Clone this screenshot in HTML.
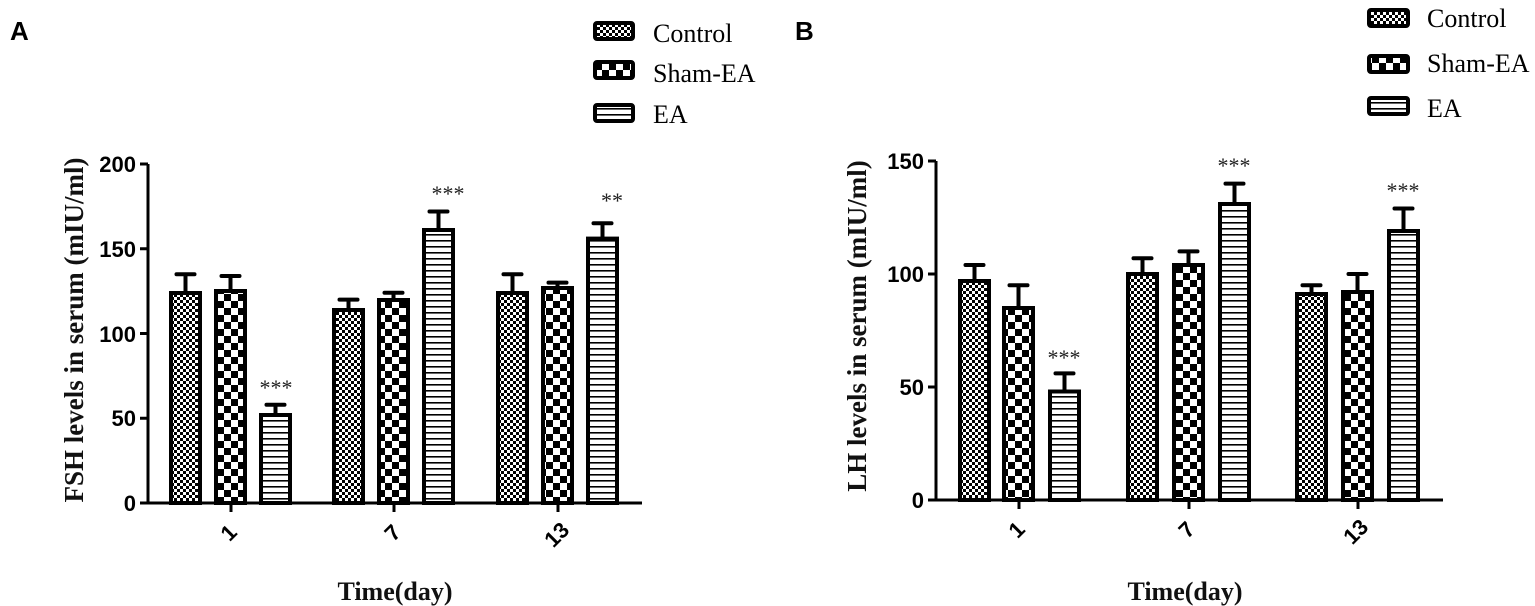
<!DOCTYPE html>
<html><head><meta charset="utf-8"><style>
html,body{margin:0;padding:0;background:#fff;}
svg{display:block;}
.t{font-family:"Liberation Sans",sans-serif;font-weight:bold;font-size:22px;}
.s{font-family:"Liberation Serif",serif;}
</style></head><body>
<svg width="1535" height="606" viewBox="0 0 1535 606" xmlns="http://www.w3.org/2000/svg">
<defs>
<pattern id="pc" width="6" height="6" patternUnits="userSpaceOnUse">
<rect width="6" height="6" fill="#fff"/><rect width="3" height="3" fill="#000"/><rect x="3" y="3" width="3" height="3" fill="#000"/></pattern>
<pattern id="ps" width="14" height="14" patternUnits="userSpaceOnUse">
<rect width="14" height="14" fill="#fff"/><rect width="7" height="7" fill="#000"/><rect x="7" y="7" width="7" height="7" fill="#000"/></pattern>
<pattern id="pe" width="6" height="6" patternUnits="userSpaceOnUse">
<rect width="6" height="6" fill="#fff"/><rect y="0" width="6" height="1.6" fill="#000"/></pattern>
</defs>
<g stroke="#000" stroke-width="4" stroke-linecap="round">
<path d="M185.5 293V274.2M176.5 274.2H194.5 M230.5 291V276M221.5 276H239.5 M275.5 415V404.7M266.5 404.7H284.5
M348.5 310V299.6M339.5 299.6H357.5 M393.5 300V292.8M384.5 292.8H402.5 M438.5 230V211.5M429.5 211.5H447.5
M512.5 293V274.2M503.5 274.2H521.5 M557.5 288V282.6M548.5 282.6H566.5 M602.5 238.6V223.3M593.5 223.3H611.5
M974.5 281V265M965.5 265H983.5 M1018.5 308V285.3M1009.5 285.3H1027.5 M1064.5 391.5V373.4M1055.5 373.4H1073.5
M1142.5 274V258.2M1133.5 258.2H1151.5 M1188.5 265V251.4M1179.5 251.4H1197.5 M1234.5 204V183.6M1225.5 183.6H1243.5
M1311.5 294V285.3M1302.5 285.3H1320.5 M1357.5 292V274M1348.5 274H1366.5 M1403.5 231V208.5M1394.5 208.5H1412.5"/>
</g>
<g stroke="#000" stroke-width="4">
<rect x="171" y="293" width="29" height="210" fill="url(#pc)"/>
<rect x="216" y="291" width="29" height="212" fill="url(#ps)"/>
<rect x="261" y="415" width="29" height="88" fill="url(#pe)"/>
<rect x="334" y="310" width="29" height="193" fill="url(#pc)"/>
<rect x="379" y="300" width="29" height="203" fill="url(#ps)"/>
<rect x="424" y="230" width="29" height="273" fill="url(#pe)"/>
<rect x="498" y="293" width="29" height="210" fill="url(#pc)"/>
<rect x="543" y="288" width="29" height="215" fill="url(#ps)"/>
<rect x="588" y="238.6" width="29" height="264.4" fill="url(#pe)"/>

<rect x="960" y="281" width="29" height="219" fill="url(#pc)"/>
<rect x="1004" y="308" width="29" height="192" fill="url(#ps)"/>
<rect x="1050" y="391.5" width="29" height="108.5" fill="url(#pe)"/>
<rect x="1128" y="274" width="29" height="226" fill="url(#pc)"/>
<rect x="1174" y="265" width="29" height="235" fill="url(#ps)"/>
<rect x="1220" y="204" width="29" height="296" fill="url(#pe)"/>
<rect x="1297" y="294" width="29" height="206" fill="url(#pc)"/>
<rect x="1343" y="292" width="29" height="208" fill="url(#ps)"/>
<rect x="1389" y="231" width="29" height="269" fill="url(#pe)"/>
</g>
<g stroke="#000" stroke-width="3" fill="none">
<path d="M148 164V504 M147 503H642 M140 164H148 M140 418.3H148 M140 333.5H148 M140 248.8H148 M140 503H148 M231 503V512 M394 503V512 M558 503V512"/>
<path d="M936 161V501 M935 500H1443 M928 161H936 M928 274H936 M928 387H936 M928 500H936 M1019 500V509 M1189 500V509 M1358 500V509"/>
</g>
<g class="t" text-anchor="end">
<text x="136" y="172">200</text><text x="136" y="257">150</text><text x="136" y="342">100</text><text x="136" y="426">50</text><text x="136" y="511">0</text>
<text x="924" y="169">150</text><text x="924" y="282">100</text><text x="924" y="395">50</text><text x="924" y="508">0</text>
</g>
<g class="t" text-anchor="middle" font-size="24">
<text transform="translate(234,538) rotate(-45)">1</text>
<text transform="translate(398,538) rotate(-45)">7</text>
<text transform="translate(562,540) rotate(-45)">13</text>
<text transform="translate(1022,535) rotate(-45)">1</text>
<text transform="translate(1192,535) rotate(-45)">7</text>
<text transform="translate(1361,537) rotate(-45)">13</text>
</g>
<g class="s" font-size="22" text-anchor="middle" fill="#222">
<text x="276" y="395">***</text><text x="448" y="201">***</text><text x="612" y="208">**</text>
<text x="1064" y="365">***</text><text x="1234" y="173">***</text><text x="1403" y="198">***</text>
</g>
<g class="s" font-weight="bold" font-size="26" text-anchor="middle" fill="#111">
<text x="395" y="600">Time(day)</text>
<text x="1185" y="600">Time(day)</text>
<text transform="translate(83,330) rotate(-90)" font-size="27">FSH  levels in serum (mIU/ml)</text>
<text transform="translate(866,326) rotate(-90)" font-size="27">LH levels in serum (mIU/ml)</text>
</g>
<g font-family="Liberation Sans,sans-serif" font-weight="bold" font-size="26">
<text x="10" y="40">A</text><text x="795" y="40">B</text>
</g>
<g stroke="#000" stroke-width="4">
<rect x="595" y="23" width="38" height="16" rx="2" fill="url(#pc)"/>
<rect x="595" y="62" width="38" height="16" rx="2" fill="url(#ps)"/>
<rect x="595" y="105" width="38" height="16" rx="2" fill="url(#pe)"/>
<rect x="1369" y="10" width="39" height="16" rx="2" fill="url(#pc)"/>
<rect x="1369" y="56" width="39" height="16" rx="2" fill="url(#ps)"/>
<rect x="1369" y="98" width="39" height="16" rx="2" fill="url(#pe)"/>
</g>
<g class="s" font-size="26" fill="#000">
<text x="653" y="42">Control</text><text x="653" y="82">Sham-EA</text><text x="653" y="123">EA</text>
<text x="1427" y="27">Control</text><text x="1427" y="72">Sham-EA</text><text x="1427" y="117">EA</text>
</g>
</svg>
</body></html>
